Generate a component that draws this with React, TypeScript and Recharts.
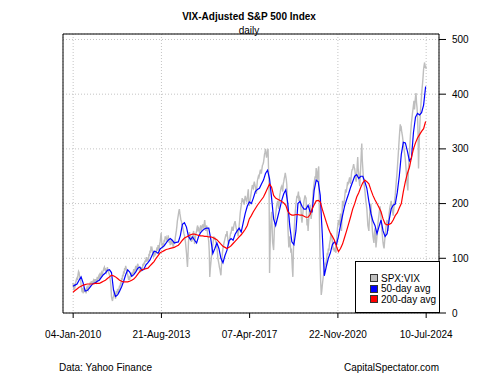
import { LineChart, Line, XAxis, YAxis, CartesianGrid, ReferenceArea, Legend } from 'recharts'

const START_YEAR = 2010

// x-axis ticks as decimal years, with the labels printed under them
const tickDates = [2010.008, 2013.637, 2017.263, 2020.893, 2024.522]
const tickLabels = ['04-Jan-2010', '21-Aug-2013', '07-Apr-2017', '22-Nov-2020', '10-Jul-2024']
const yTicks = [0, 100, 200, 300, 400, 500]

// SPX:VIX ratio, about weekly (4 readings a month) from Jan 2010 to Jul 2024
const spxVix = [
  // 2010
  55, 47, 42, 50, 48, 54, 58, 62, 64, 60, 70, 76, 74, 68, 62, 66, 50, 44, 38, 46, 36, 44, 42, 38,
  44, 40, 36, 45, 48, 44, 42, 47, 52, 49, 56, 53, 58, 55, 52, 57, 56, 61, 60, 55, 62, 58, 56, 61,
  // 2011
  66, 60, 62, 68, 70, 64, 66, 72, 74, 68, 70, 76, 78, 82, 84, 79, 80, 76, 74, 80, 84, 78, 76, 72,
  70, 64, 58, 48, 30, 25, 22, 28, 30, 36, 38, 32, 26, 33, 40, 36, 44, 40, 38, 45, 50, 47, 56, 52,
  // 2012
  64, 60, 70, 67, 76, 72, 82, 78, 86, 82, 78, 74, 70, 65, 60, 64, 62, 67, 70, 66, 74, 69, 70, 76,
  80, 75, 76, 82, 86, 80, 82, 87, 90, 85, 82, 78, 74, 78, 80, 76, 84, 80, 90, 86, 92, 89, 96, 93,
  // 2013
  98, 102, 94, 99, 100, 96, 108, 104, 114, 110, 122, 116, 118, 112, 108, 103, 104, 110, 114, 108, 110, 116, 120, 114,
  124, 118, 116, 126, 130, 138, 146, 132, 122, 118, 128, 124, 134, 130, 140, 135, 138, 134, 130, 136, 142, 135, 128, 132,
  // 2014
  124, 130, 134, 128, 130, 125, 120, 127, 132, 128, 138, 144, 150, 158, 168, 174, 180, 186, 190, 182, 176, 170, 168, 162,
  160, 154, 150, 145, 142, 136, 130, 120, 110, 96, 84, 105, 130, 138, 148, 142, 140, 134, 130, 138, 136, 144, 150, 140,
  // 2015
  126, 134, 140, 146, 150, 156, 160, 152, 154, 150, 146, 155, 160, 154, 150, 158, 162, 158, 156, 163, 170, 160, 150, 156,
  160, 150, 142, 138, 130, 112, 66, 80, 90, 100, 110, 118, 125, 132, 140, 134, 138, 134, 130, 126, 120, 112, 100, 95,
  // 2016
  90, 84, 80, 74, 69, 85, 100, 110, 118, 122, 128, 132, 136, 140, 144, 140, 150, 140, 132, 126, 128, 134, 140, 146,
  146, 152, 158, 154, 150, 156, 162, 165, 168, 162, 156, 152, 150, 146, 140, 150, 160, 170, 182, 190, 196, 202, 210, 205,
  // 2017
  206, 202, 198, 208, 214, 210, 206, 204, 210, 218, 226, 205, 196, 202, 208, 215, 222, 228, 234, 230, 228, 236, 240, 234,
  230, 222, 218, 232, 242, 246, 250, 248, 252, 258, 262, 256, 256, 264, 270, 272, 275, 282, 290, 294, 300, 292, 284, 290,
  // 2018
  296, 300, 262, 240, 73, 120, 150, 172, 185, 160, 130, 122, 115, 140, 165, 172, 180, 188, 196, 200, 205, 198, 190, 202,
  215, 220, 226, 230, 232, 228, 222, 236, 240, 246, 250, 256, 250, 244, 235, 210, 160, 140, 120, 132, 140, 125, 110, 118,
  // 2019
  100, 80, 66, 110, 140, 158, 175, 188, 198, 206, 214, 210, 216, 222, 205, 212, 210, 200, 190, 172, 165, 176, 185, 196,
  205, 210, 215, 212, 210, 178, 160, 172, 150, 166, 180, 190, 198, 184, 172, 180, 190, 205, 220, 230, 238, 244, 250, 246,
  // 2020
  265, 252, 240, 256, 262, 268, 200, 140, 85, 55, 33, 40, 50, 58, 66, 72, 78, 85, 92, 88, 96, 102, 110, 106,
  118, 114, 124, 130, 135, 146, 142, 138, 130, 122, 115, 118, 112, 118, 120, 110, 125, 140, 155, 162, 170, 166, 160, 168,
  // 2021
  182, 170, 150, 178, 205, 200, 195, 202, 210, 218, 226, 220, 225, 232, 240, 236, 238, 244, 248, 240, 236, 248, 258, 262,
  262, 268, 272, 266, 264, 256, 245, 240, 250, 270, 285, 262, 255, 240, 232, 250, 270, 292, 310, 280, 265, 250, 240, 232,
  // 2022
  225, 215, 205, 198, 190, 175, 160, 155, 150, 170, 185, 195, 200, 180, 165, 150, 140, 134, 128, 146, 155, 140, 120, 130,
  140, 152, 165, 172, 180, 188, 195, 186, 175, 160, 148, 138, 128, 122, 118, 130, 140, 150, 160, 166, 170, 160, 150, 166,
  // 2023
  182, 190, 196, 200, 205, 198, 190, 184, 178, 188, 200, 208, 215, 228, 240, 250, 262, 276, 290, 305, 320, 334, 345, 336,
  338, 330, 325, 318, 310, 302, 295, 288, 280, 268, 255, 240, 232, 224, 262, 276, 290, 308, 325, 336, 348, 356, 365, 372,
  // 2024
  380, 388, 372, 384, 395, 402, 385, 376, 360, 330, 264, 300, 330, 352, 372, 385, 398, 410, 420, 432, 446, 452, 458, 448,
  452, 446,
]

// 50-day average, one reading a month
const avg50 = [
  49, 51, 53, 60, 66, 55, 40, 41, 45, 50, 54, 55,
  58, 60, 65, 70, 73, 78, 79, 74, 42, 30, 33, 40,
  48, 58, 70, 79, 75, 67, 70, 75, 82, 84, 78, 80,
  88, 92, 97, 105, 113, 112, 109, 117, 120, 123, 128, 133,
  136, 133, 128, 129, 130, 142, 162, 165, 157, 140, 134, 139,
  133, 128, 140, 147, 151, 154, 155, 155, 135, 109, 118, 128,
  118, 100, 92, 105, 115, 132, 136, 133, 144, 150, 155, 148,
  165, 182, 195, 203, 200, 210, 222, 226, 228, 236, 243, 255,
  261, 245, 210, 172, 160, 175, 190, 206, 218, 225, 200, 158,
  130, 125, 150, 200, 204, 195, 190, 190, 197, 185, 185, 224,
  243, 240, 215, 145, 68, 85, 100, 110, 125, 130, 125, 140,
  160, 178, 195, 207, 218, 230, 240, 250, 253, 246, 250, 250,
  240, 228, 204, 182, 168, 160, 145, 158, 170, 150, 140, 145,
  170, 190, 197, 199, 220, 250, 290, 312, 311, 296, 278, 283,
  330, 358, 365, 362, 366, 380, 414,
]

// 200-day average, one reading a month
const avg200 = [
  38, 41, 44, 47, 49, 51, 52, 53, 53, 53, 53, 54,
  54, 54, 56, 58, 60, 63, 66, 69, 68, 66, 63, 60,
  58, 57, 57, 57, 58, 60, 62, 66, 71, 76, 79, 80,
  81, 82, 86, 90, 94, 100, 105, 110, 112, 114, 116, 117,
  118, 119, 120, 122, 124, 128, 133, 137, 139, 141, 143, 144,
  144, 143, 142, 141, 141, 140, 140, 139, 139, 138, 136, 134,
  130, 126, 122, 120, 118, 120, 123, 127, 131, 135, 139, 143,
  148, 153, 160, 172, 178, 185, 191, 197, 202, 207, 212, 220,
  228, 236, 230, 215, 210, 208, 206, 204, 201, 197, 186, 181,
  179, 179, 180, 180, 179, 179, 177, 175, 175, 180, 190, 198,
  205, 206, 203, 190, 178, 166, 155, 146, 140, 133, 122, 112,
  118, 126, 138, 150, 163, 176, 190, 200, 212, 220, 230, 238,
  243, 240, 236, 225, 215, 207, 200, 193, 185, 172, 163, 161,
  162, 164, 170, 178, 183, 192, 200, 222, 240, 255, 266, 284,
  300, 311, 320, 326, 332, 337, 350,
]

const X_DOMAIN: [number, number] = [2009.59, 2025.05]
const Y_DOMAIN: [number, number] = [0, 510]

const GREY = '#bebebe'
const BLUE = '#0000ff'
const RED = '#ff0000'
const FONT = '"Liberation Sans", Arial, sans-serif'

const ratioData = spxVix.map((v, i) => ({ t: START_YEAR + i / 48, v }))
const avg50Data = avg50.map((v, i) => ({ t: START_YEAR + i / 12, v }))
const avg200Data = avg200.map((v, i) => ({ t: START_YEAR + i / 12, v }))

const legendItems = [
  { label: 'SPX:VIX', color: GREY },
  { label: '50-day avg', color: BLUE },
  { label: '200-day avg', color: RED },
]

function LegendBox() {
  return (
    <div
      style={{
        width: 85,
        height: 52,
        boxSizing: 'border-box',
        border: '1px solid #000',
        background: '#fff',
        padding: '11px 0 0 14px',
        fontFamily: FONT,
        fontSize: 10,
        color: '#000',
      }}
    >
      {legendItems.map((item) => (
        <div key={item.label} style={{ display: 'flex', alignItems: 'center', height: 10.5 }}>
          <span
            style={{
              display: 'inline-block',
              width: 6,
              height: 6,
              background: item.color,
              border: '1px solid #333',
              marginRight: 3,
            }}
          />
          {item.label}
        </div>
      ))}
    </div>
  )
}

export default function App() {
  return (
    <div style={{ position: 'absolute', left: 0, top: 0, width: 500, height: 375, background: '#fff' }}>
      <LineChart width={500} height={375} margin={{ top: 34, right: 0, bottom: 0, left: 63 }}>
        <CartesianGrid stroke="#c4c4c4" strokeDasharray="1 2" />
        <XAxis
          type="number"
          dataKey="t"
          domain={X_DOMAIN}
          allowDataOverflow
          ticks={tickDates}
          tickFormatter={(v: number) => tickLabels[tickDates.indexOf(v)] ?? ''}
          height={62}
          axisLine={false}
          tickSize={5}
          tickMargin={13}
          tickLine={{ stroke: '#000' }}
          tick={{ fontSize: 10, fill: '#000', fontFamily: FONT }}
        />
        <YAxis
          orientation="right"
          domain={Y_DOMAIN}
          allowDataOverflow
          ticks={yTicks}
          width={61}
          axisLine={false}
          tickSize={7}
          tickMargin={6}
          tickLine={{ stroke: '#000' }}
          tick={{ fontSize: 10, fill: '#000', fontFamily: FONT }}
        />
        <ReferenceArea
          x1={X_DOMAIN[0]}
          x2={X_DOMAIN[1]}
          y1={Y_DOMAIN[0]}
          y2={Y_DOMAIN[1]}
          fill="none"
          stroke="#000"
          strokeWidth={1}
        />
        <Line data={ratioData} dataKey="v" stroke={GREY} strokeWidth={1.4} dot={false} isAnimationActive={false} name="SPX:VIX" />
        <Line data={avg50Data} dataKey="v" stroke={BLUE} strokeWidth={1.2} dot={false} isAnimationActive={false} name="50-day avg" />
        <Line data={avg200Data} dataKey="v" stroke={RED} strokeWidth={1.2} dot={false} isAnimationActive={false} name="200-day avg" />
        <Legend
          layout="vertical"
          align="center"
          verticalAlign="middle"
          content={() => <LegendBox />}
          wrapperStyle={{ left: 355, top: 261, width: 85, height: 52 }}
        />
      </LineChart>
      <svg
        width={500}
        height={375}
        style={{ position: 'absolute', left: 0, top: 0, pointerEvents: 'none' }}
        fontFamily={FONT}
      >
        <text x={249} y={20} textAnchor="middle" fontSize={10} fontWeight="bold" fill="#000">
          VIX-Adjusted S&amp;P 500 Index
        </text>
        <text x={249} y={34} textAnchor="middle" fontSize={10} fill="#000">
          daily
        </text>
        <text x={59} y={371} fontSize={10} fill="#000">
          Data: Yahoo Finance
        </text>
        <text x={439} y={371} textAnchor="end" fontSize={10} fill="#000">
          CapitalSpectator.com
        </text>
      </svg>
    </div>
  )
}
